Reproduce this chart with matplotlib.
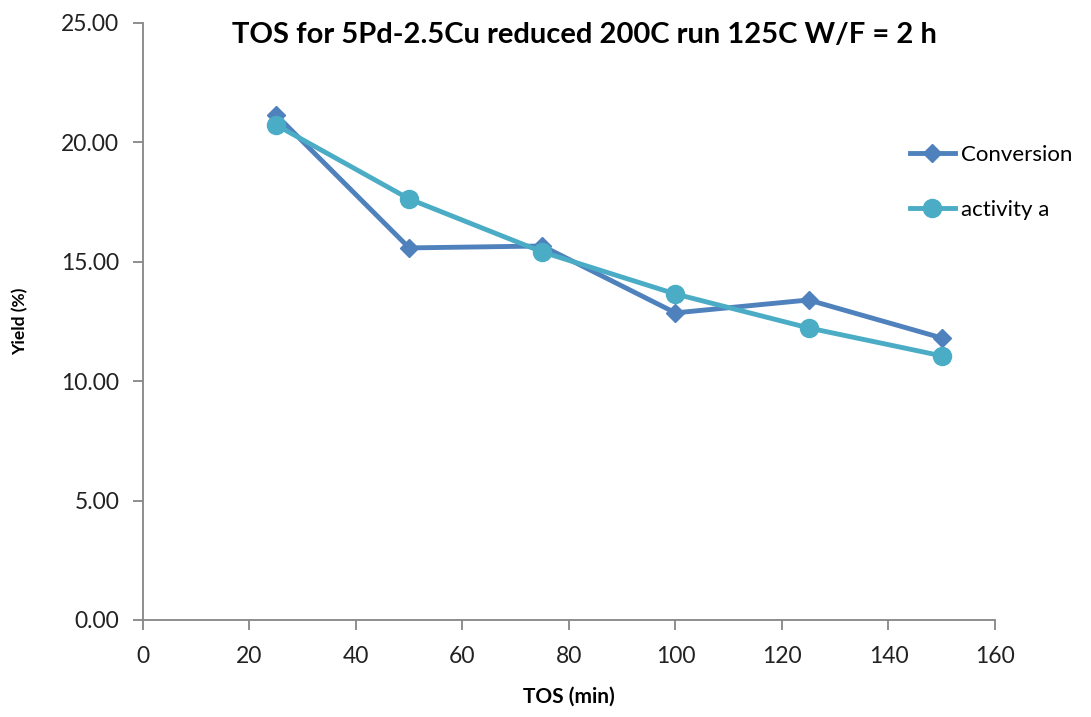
import matplotlib
matplotlib.use("Agg")
import matplotlib.pyplot as plt

plt.rcParams['font.family'] = ['Lato', 'DejaVu Sans']

# Time on stream (min) and yields (%)
tos = [25, 50, 75, 100, 125, 150]
conversion = [21.15, 15.58, 15.66, 12.86, 13.40, 11.81]
activity_a = [20.73, 17.63, 15.41, 13.65, 12.23, 11.06]

fig = plt.figure(figsize=(10.91, 7.17), dpi=100)
ax = fig.add_axes([0.131, 0.1353, 0.781, 0.8327])

ax.plot(tos, conversion, color='#4F81BD', lw=3.5, marker='D', ms=9,
        label='Conversion', zorder=3)
ax.plot(tos, activity_a, color='#4BACC6', lw=3.5, marker='o', ms=13,
        label='activity a', zorder=4)

ax.set_xlim(0, 160)
ax.set_ylim(0, 25)
ax.set_xticks(range(0, 161, 20))
ax.set_yticks([0, 5, 10, 15, 20, 25])
ax.set_yticklabels(['%.2f' % v for v in [0, 5, 10, 15, 20, 25]])

for s in ['top', 'right']:
    ax.spines[s].set_visible(False)
for s in ['left', 'bottom']:
    ax.spines[s].set_color('#868686')
    ax.spines[s].set_linewidth(1.3)
ax.tick_params(axis='both', colors='#868686', length=7, width=1.3,
               labelcolor='#222222', labelsize=16.5)
ax.tick_params(axis='x', pad=12)
ax.tick_params(axis='y', pad=10)

fig.text(0.536, 0.951, 'TOS for 5Pd-2.5Cu reduced 200C run 125C W/F = 2 h',
         fontsize=21, fontweight='bold', ha='center', va='center')
ax.set_xlabel('TOS (min)', fontsize=15, fontweight='bold', labelpad=14)
ax.set_ylabel('Yield (%)', fontsize=12.5, fontweight='bold', labelpad=24)

ax.legend(loc='upper left', bbox_to_anchor=(0.89, 0.81), frameon=False,
          fontsize=16, labelspacing=1.55, handlelength=2.0,
          handletextpad=0.3, borderaxespad=0)

fig.savefig('out.png', dpi=100)
